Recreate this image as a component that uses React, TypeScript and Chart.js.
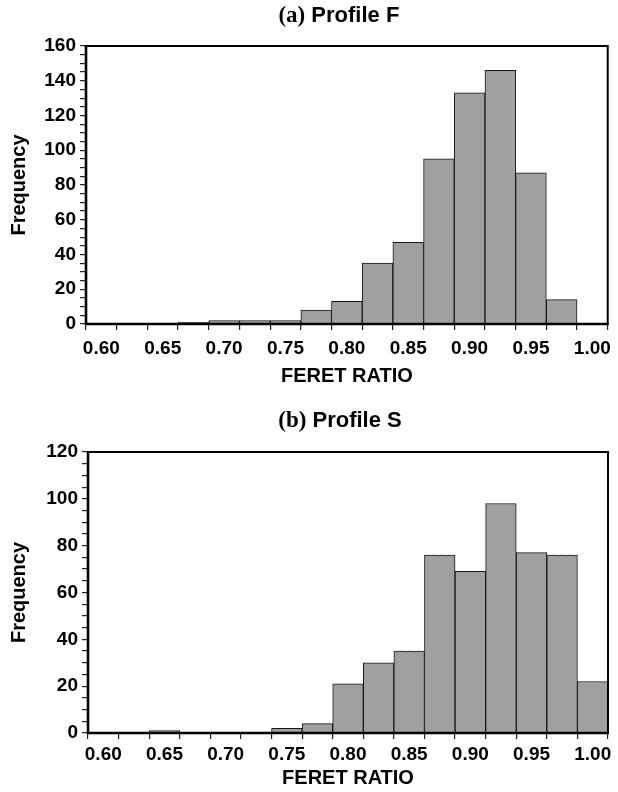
import React, { useEffect, useRef } from 'react';
import { Chart, registerables } from 'chart.js';

Chart.register(...registerables);

// ---------- data ----------
const binLabels = [
  '0.60', '0.625', '0.65', '0.675', '0.70', '0.725', '0.75', '0.775', '0.80',
  '0.825', '0.85', '0.875', '0.90', '0.925', '0.95', '0.975', '1.00',
];
const profileF = [0, 0, 0, 1, 2, 2, 2, 8, 13, 35, 47, 95, 133, 146, 87, 14, 0];
const profileS = [0, 0, 1, 0, 0, 0, 2, 4, 21, 30, 35, 76, 69, 98, 77, 76, 22];
const yMaxF = 160;
const yMaxS = 120;
const yMajorStep = 20;
const yMinorStep = 5;
const xTitle = 'FERET RATIO';
const yTitle = 'Frequency';

const SANS = '"Liberation Sans", Arial, Helvetica, sans-serif';
const SERIF = '"Liberation Serif", "Times New Roman", serif';

function makePattern(): CanvasPattern | string {
  const c = document.createElement('canvas');
  c.width = 4;
  c.height = 4;
  const g = c.getContext('2d');
  if (!g) return '#a0a0a0';
  g.fillStyle = '#a0a0a0';
  g.fillRect(0, 0, 4, 4);
  g.fillStyle = '#929292';
  g.fillRect(0, 0, 1, 1);
  g.fillRect(2, 2, 1, 1);
  g.fillStyle = '#aeaeae';
  g.fillRect(2, 0, 1, 1);
  g.fillRect(0, 2, 1, 1);
  const p = g.createPattern(c, 'repeat');
  return p || '#a0a0a0';
}

const mixedTitlePlugin = {
  id: 'mixedTitle',
  afterDraw(chart: any, _args: any, opts: any) {
    const { ctx, chartArea } = chart;
    const size = opts.size;
    ctx.save();
    const f1 = `bold ${size}px ${SERIF}`;
    const f2 = `bold ${size - 1}px ${SANS}`;
    ctx.font = f1;
    const w1 = ctx.measureText(opts.prefix).width;
    ctx.font = f2;
    const w2 = ctx.measureText(opts.text).width;
    const cx = (chartArea.left + chartArea.right) / 2 + opts.dx;
    const x = cx - (w1 + w2) / 2;
    ctx.textBaseline = 'middle';
    ctx.textAlign = 'left';
    ctx.fillStyle = '#000';
    ctx.font = f1;
    ctx.fillText(opts.prefix, x, opts.y);
    ctx.font = f2;
    ctx.fillText(opts.text, x + w1, opts.y);
    ctx.restore();
  },
};

const framePlugin = {
  id: 'frame',
  afterDatasetsDraw(chart: any) {
    const { ctx, chartArea: a } = chart;
    ctx.save();
    ctx.strokeStyle = '#000';
    ctx.lineWidth = 2;
    ctx.beginPath();
    ctx.moveTo(a.left, a.top);
    ctx.lineTo(a.right, a.top);
    ctx.lineTo(a.right, a.bottom);
    ctx.stroke();
    ctx.lineWidth = 2.6;
    ctx.beginPath();
    ctx.moveTo(a.left, a.top - 1);
    ctx.lineTo(a.left, a.bottom);
    ctx.lineTo(a.right + 1, a.bottom);
    ctx.stroke();
    ctx.restore();
  },
};

type Panel = {
  values: number[];
  yMax: number;
  prefix: string;
  name: string;
  height: number;
  padTop: number;
  padRight: number;
  yWidth: number;
  xHeight: number;
  xTickPad: number;
  xTitlePad: number;
  titleY: number;
};

const panels: Panel[] = [
  {
    values: profileF, yMax: yMaxF, prefix: '(a)', name: ' Profile F',
    height: 395, padTop: 46, padRight: 5, yWidth: 86, xHeight: 71,
    xTickPad: 7, xTitlePad: 7, titleY: 16,
  },
  {
    values: profileS, yMax: yMaxS, prefix: '(b)', name: ' Profile S',
    height: 397, padTop: 57, padRight: 10, yWidth: 88, xHeight: 59,
    xTickPad: 4, xTitlePad: 2, titleY: 26,
  },
];

function makeConfig(p: Panel, fill: CanvasPattern | string): any {
  const tickFont = { family: SANS, size: 19, weight: 'bold' as const };
  return {
    type: 'bar',
    data: {
      labels: binLabels,
      datasets: [
        {
          data: p.values,
          backgroundColor: fill,
          borderColor: '#161616',
          borderWidth: 1,
          barPercentage: 1,
          categoryPercentage: 1,
          borderSkipped: 'start',
        },
      ],
    },
    options: {
      animation: false,
      responsive: false,
      layout: { padding: { top: p.padTop, right: p.padRight, left: 0, bottom: 0 } },
      plugins: {
        legend: { display: false },
        tooltip: { enabled: false },
        title: { display: false },
        mixedTitle: { prefix: p.prefix, text: p.name, size: 23, y: p.titleY, dx: -8 },
      },
      scales: {
        x: {
          type: 'category',
          offset: true,
          grid: {
            offset: true,
            drawOnChartArea: false,
            drawTicks: true,
            tickLength: 6,
            color: '#222',
            lineWidth: 1.2,
          },
          border: { display: false },
          ticks: {
            autoSkip: false,
            maxRotation: 0,
            minRotation: 0,
            padding: p.xTickPad,
            color: '#000',
            font: tickFont,
            callback: function (this: any, v: any, i: number) {
              return i % 2 === 0 ? this.getLabelForValue(v) : '';
            },
          },
          title: {
            display: true,
            text: xTitle,
            color: '#000',
            font: { family: SANS, size: 20, weight: 'bold' },
            padding: { top: 0, bottom: p.xTitlePad },
          },
          afterFit(s: any) {
            s.height = p.xHeight;
          },
        },
        y: {
          min: 0,
          max: p.yMax,
          grid: {
            drawOnChartArea: false,
            drawTicks: true,
            tickLength: 6,
            color: '#222',
            lineWidth: 1.2,
          },
          border: { display: false },
          ticks: {
            stepSize: yMinorStep,
            autoSkip: false,
            maxTicksLimit: 200,
            padding: 4,
            color: '#000',
            font: tickFont,
            callback: (v: any) => (Number(v) % yMajorStep === 0 ? String(v) : ''),
          },
          title: {
            display: true,
            text: yTitle,
            color: '#000',
            font: { family: SANS, size: 20, weight: 'bold' },
            padding: { top: 7, bottom: 0 },
          },
          afterFit(s: any) {
            s.width = p.yWidth;
          },
        },
      },
    },
    plugins: [mixedTitlePlugin, framePlugin],
  };
}

function HistPanel({ panel }: { panel: Panel }) {
  const ref = useRef<HTMLCanvasElement | null>(null);
  useEffect(() => {
    if (!ref.current) return;
    const chart = new Chart(ref.current, makeConfig(panel, makePattern()));
    return () => chart.destroy();
  }, [panel]);
  return (
    <canvas
      ref={ref}
      width={618}
      height={panel.height}
      style={{ display: 'block', width: 618, height: panel.height }}
    />
  );
}

export default function App() {
  return (
    <div style={{ position: 'absolute', left: 0, top: 0, width: 618, height: 792, background: '#fff' }}>
      {panels.map((p) => (
        <HistPanel key={p.prefix} panel={p} />
      ))}
    </div>
  );
}
